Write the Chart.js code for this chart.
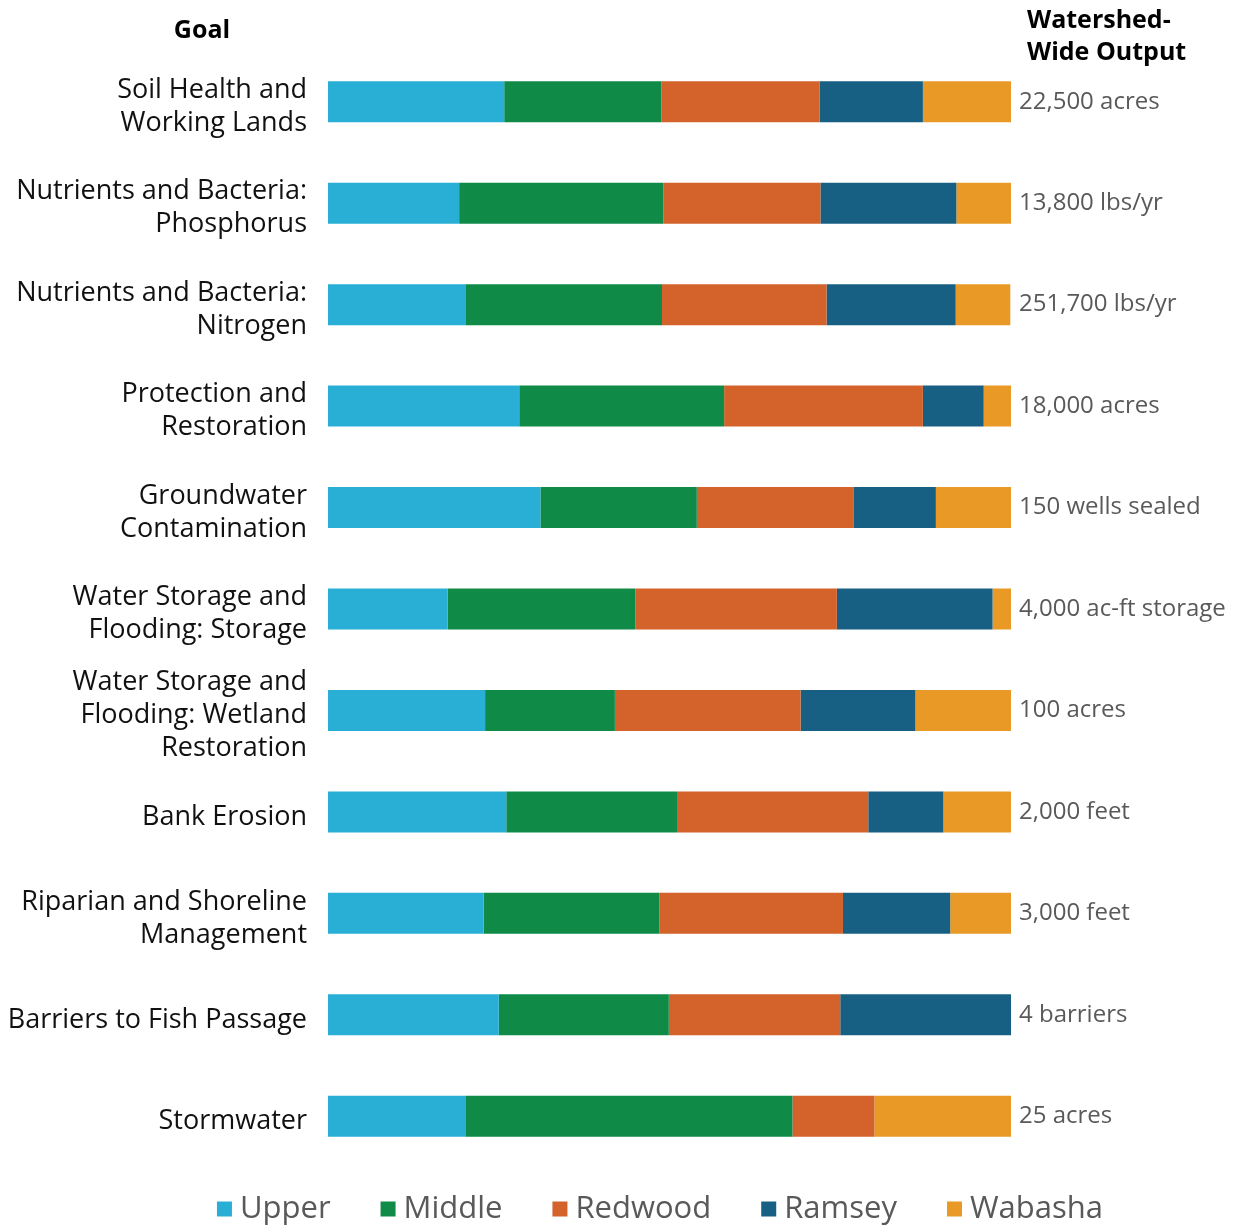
<!DOCTYPE html>
<html>
<head>
<meta charset="utf-8">
<script src="https://cdn.jsdelivr.net/npm/chart.js@4.4.0/dist/chart.umd.min.js"></script>
<style>
html,body{margin:0;padding:0;background:#fff;}
#wrap{width:1244px;height:1226px;position:relative;}
canvas{display:block;}
</style>
</head>
<body>
<div id="wrap"><canvas id="c" width="1244" height="1226"></canvas></div>
<script>
// ---- data ----
const goals = [
  ["Soil Health and", "Working Lands"],
  ["Nutrients and Bacteria:", "Phosphorus"],
  ["Nutrients and Bacteria:", "Nitrogen"],
  ["Protection and", "Restoration"],
  ["Groundwater", "Contamination"],
  ["Water Storage and", "Flooding: Storage"],
  ["Water Storage and", "Flooding: Wetland", "Restoration"],
  ["Bank Erosion"],
  ["Riparian and Shoreline", "Management"],
  ["Barriers to Fish Passage"],
  ["Stormwater"]
];
const outputs = [
  "22,500 acres",
  "13,800 lbs/yr",
  "251,700 lbs/yr",
  "18,000 acres",
  "150 wells sealed",
  "4,000 ac-ft storage",
  "100 acres",
  "2,000 feet",
  "3,000 feet",
  "4 barriers",
  "25 acres"
];
const seriesNames = ["Upper", "Middle", "Redwood", "Ramsey", "Wabasha"];
const upper   = [25.8, 19.2, 20.1, 28.0, 31.1, 17.5, 23.0, 26.1, 22.8, 25.0, 20.1];
const middle  = [23.0, 29.9, 28.8, 30.0, 22.9, 27.5, 19.0, 25.0, 25.7, 24.9, 47.9];
const redwood = [23.2, 23.0, 24.1, 29.1, 23.0, 29.5, 27.2, 28.0, 26.9, 25.1, 12.0];
const ramsey  = [15.1, 19.9, 18.9,  8.9, 12.0, 22.8, 16.8, 11.0, 15.7, 25.0,  0.0];
const wabasha = [12.9,  8.0,  8.0,  4.0, 11.0,  2.7, 14.0,  9.9,  8.9,  0.0, 20.0];
const seriesColors = ["#29AFD6", "#0F8A47", "#D4622B", "#186083", "#E99A26"];

const FONT = "'Open Sans', Lato, sans-serif";
const seriesValues = [upper, middle, redwood, ramsey, wabasha];

const headerPlugin = {
  id: 'header',
  afterDraw(chart) {
    const ctx = chart.ctx;
    ctx.save();
    ctx.fillStyle = '#000';
    ctx.font = "bold 25px " + FONT;
    ctx.textBaseline = 'middle';
    ctx.textAlign = 'center';
    ctx.fillText("Goal", 202, 31);
    ctx.textAlign = 'left';
    ctx.fillText("Watershed-", 1027, 21);
    ctx.fillText("Wide Output", 1027, 53);
    ctx.restore();
  }
};

const legendPlugin = {
  id: 'customLegend',
  afterDraw(chart) {
    const ctx = chart.ctx;
    ctx.save();
    ctx.font = "31px " + FONT;
    ctx.textBaseline = 'middle';
    ctx.textAlign = 'left';
    const box = 15, gapText = 8, gapItem = 50;
    const items = chart.data.datasets.map(d => ({label: d.label, color: d.backgroundColor, w: ctx.measureText(d.label).width}));
    let total = 0;
    items.forEach((it, i) => { total += box + gapText + it.w + (i < items.length - 1 ? gapItem : 0); });
    let x = 660 - total / 2;
    const y = 1209;
    items.forEach(it => {
      ctx.fillStyle = it.color;
      ctx.fillRect(x, y - box / 2, box, box);
      ctx.fillStyle = '#595959';
      ctx.fillText(it.label, x + box + gapText, y);
      x += box + gapText + it.w + gapItem;
    });
    ctx.restore();
  }
};

new Chart(document.getElementById('c'), {
  type: 'bar',
  data: {
    labels: goals,
    datasets: seriesNames.map((name, i) => ({
      label: name,
      data: seriesValues[i],
      backgroundColor: seriesColors[i],
      borderWidth: 0,
      barPercentage: 0.404,
      categoryPercentage: 1.0
    }))
  },
  options: {
    indexAxis: 'y',
    responsive: false,
    animation: false,
    devicePixelRatio: 1,
    layout: { padding: { top: 51, bottom: 59, left: 0, right: 0 } },
    plugins: {
      legend: { display: false },
      tooltip: { enabled: false }
    },
    scales: {
      x: { stacked: true, min: 0, max: 100, display: false },
      y: {
        stacked: true,
        position: 'left',
        grid: { display: false, drawTicks: false },
        border: { display: false },
        ticks: { color: '#111', font: { family: FONT, size: 27, lineHeight: 1.22 }, padding: 21, autoSkip: false, labelOffset: 5 },
        afterFit(scale) { scale.width = 328; }
      },
      y2: {
        type: 'category',
        labels: outputs,
        offset: true,
        position: 'right',
        grid: { display: false, drawTicks: false },
        border: { display: false },
        ticks: { color: '#595959', font: { family: FONT, size: 24 }, padding: 8, autoSkip: false },
        afterFit(scale) { scale.width = 233; }
      }
    }
  },
  plugins: [headerPlugin, legendPlugin]
});
</script>
</body>
</html>
